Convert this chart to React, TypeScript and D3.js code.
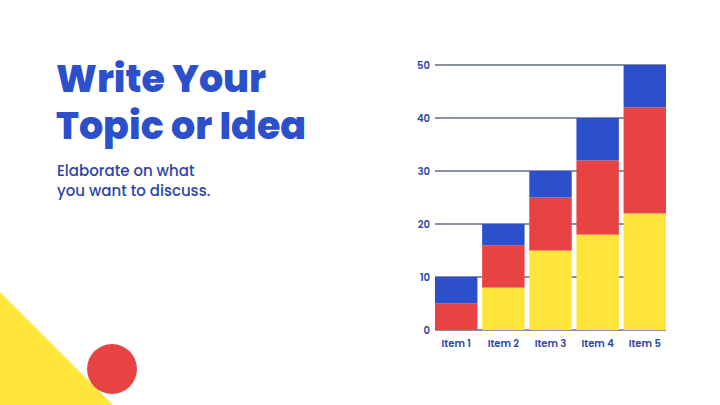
import React, { useEffect, useRef } from 'react';
import * as d3 from 'd3';

const categories = ['Item 1', 'Item 2', 'Item 3', 'Item 4', 'Item 5'];
const seriesNames = ['Series 1', 'Series 2', 'Series 3'];
const series1 = [0, 8, 15, 18, 22];
const series2 = [5, 8, 10, 14, 20];
const series3 = [5, 4, 5, 8, 8];
const yTicks = [0, 10, 20, 30, 40, 50];

const colors = ['#ffe53b', '#e84343', '#2c4fcb'];

const App: React.FC = () => {
  const ref = useRef<SVGSVGElement | null>(null);

  useEffect(() => {
    const svg = d3.select(ref.current);
    const width = 720;
    const height = 405;
    svg.selectAll('*').remove();
    svg.attr('width', width).attr('height', height).attr('viewBox', `0 0 ${width} ${height}`);

    svg.append('rect').attr('width', width).attr('height', height).attr('fill', '#ffffff');

    // decorations
    svg.append('path').attr('d', 'M0,292 L113,405 L0,405 Z').attr('fill', colors[0]);
    svg.append('circle').attr('cx', 112).attr('cy', 369).attr('r', 25).attr('fill', colors[1]);

    // title
    const title = svg.append('text')
      .attr('fill', '#2c4fcb')
      .attr('font-family', 'Poppins, "Noto Sans", sans-serif')
      .attr('font-weight', 800)
      .attr('font-size', 38);
    title.append('tspan').attr('x', 56).attr('y', 92).text('Write Your');
    title.append('tspan').attr('x', 56).attr('y', 139).text('Topic or Idea');

    const sub = svg.append('text')
      .attr('fill', '#2e46a8')
      .attr('font-family', 'Poppins, "Noto Sans", sans-serif')
      .attr('font-weight', 500)
      .attr('font-size', 15);
    sub.append('tspan').attr('x', 57).attr('y', 176).text('Elaborate on what');
    sub.append('tspan').attr('x', 57).attr('y', 196).text('you want to discuss.');

    // chart
    const margin = { top: 65, right: 54, bottom: 75, left: 435 };
    const x = d3.scaleBand()
      .domain(categories)
      .range([margin.left, width - margin.right])
      .paddingInner(0.1)
      .paddingOuter(0);
    const y = d3.scaleLinear()
      .domain([0, 50])
      .range([height - margin.bottom, margin.top]);

    const rows = categories.map((c, i) => ({
      category: c,
      'Series 1': series1[i],
      'Series 2': series2[i],
      'Series 3': series3[i],
    }));
    const stacked = d3.stack<any>().keys(seriesNames)(rows);

    const grid = svg.append('g');
    grid.selectAll('line')
      .data(yTicks)
      .join('line')
      .attr('x1', margin.left)
      .attr('x2', width - margin.right)
      .attr('y1', d => y(d))
      .attr('y2', d => y(d))
      .attr('stroke', '#17224f')
      .attr('stroke-width', 1);

    grid.selectAll('text')
      .data(yTicks)
      .join('text')
      .attr('x', margin.left - 5)
      .attr('y', d => y(d))
      .attr('dy', '0.35em')
      .attr('text-anchor', 'end')
      .attr('fill', '#2e46a8')
      .attr('font-family', 'Poppins, "Noto Sans", sans-serif')
      .attr('font-weight', 600)
      .attr('font-size', 10)
      .text(d => d);

    svg.append('g')
      .selectAll('g')
      .data(stacked)
      .join('g')
      .attr('fill', (_d, i) => colors[i])
      .selectAll('rect')
      .data(d => d)
      .join('rect')
      .attr('x', d => x(d.data.category) as number)
      .attr('y', d => y(d[1]))
      .attr('height', d => y(d[0]) - y(d[1]))
      .attr('width', x.bandwidth());

    svg.append('g')
      .selectAll('text')
      .data(categories)
      .join('text')
      .attr('x', d => (x(d) as number) + x.bandwidth() / 2)
      .attr('y', height - margin.bottom + 17)
      .attr('text-anchor', 'middle')
      .attr('fill', '#2e46a8')
      .attr('font-family', 'Poppins, "Noto Sans", sans-serif')
      .attr('font-weight', 600)
      .attr('font-size', 10)
      .text(d => d);
  }, []);

  return (
    <svg ref={ref} style={{ position: 'absolute', left: 0, top: 0, display: 'block' }}></svg>
  );
};

export default App;
